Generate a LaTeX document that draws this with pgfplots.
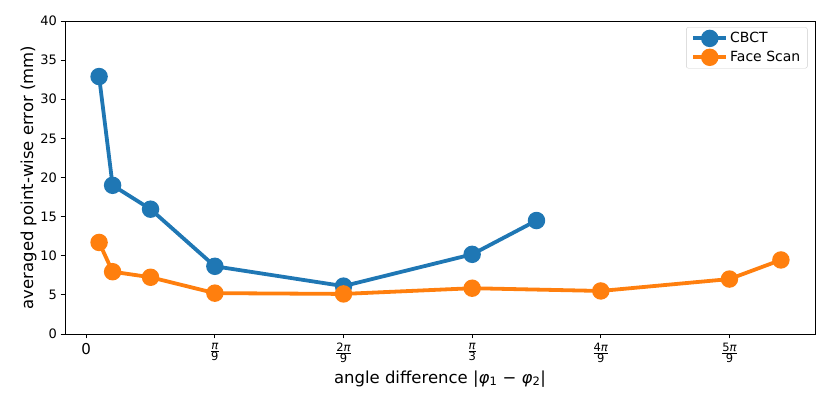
\documentclass[border=0pt]{standalone}
\usepackage{pgfplots}
\pgfplotsset{compat=1.18}
\usepackage{fontspec}
\setmainfont{DejaVu Sans}
\definecolor{tabblue}{HTML}{1F77B4}
\definecolor{taborange}{HTML}{FF7F0E}
\newcommand{\pf}[2]{$\frac{\mbox{\fontsize{11.5}{12}\selectfont #1\textit{π}}}{\mbox{\fontsize{11.5}{12}\selectfont #2}}$}
\begin{document}
\begin{tikzpicture}
\begin{axis}[
  scale only axis, width=750pt, height=313pt,
  xmin=-3.3, xmax=113.3, ymin=0, ymax=40,
  xtick={0,20,40,60,80,100},
  xticklabels={{\fontsize{15}{16}\selectfont 0},{\pf{}{9}},{\pf{2}{9}},{\pf{}{3}},{\pf{4}{9}},{\pf{5}{9}}},
  ytick={0,5,10,15,20,25,30,35,40},
  tick align=outside, tick pos=left,
  major tick length=4.5pt,
  tick style={black, line width=0.8pt},
  axis line style={line width=0.8pt},
  /pgf/number format/assume math mode=true,
  ticklabel style={font=\fontsize{13}{14}\selectfont},
  xticklabel style={yshift=-1pt},
  label style={font=\fontsize{16.5}{18}\selectfont},
  xlabel={angle difference |\textit{φ}\textsubscript{1} − \textit{φ}\textsubscript{2}|},
  ylabel={averaged point-wise error (mm)},
  xlabel style={yshift=-1pt},
  ylabel style={yshift=-3pt},
  legend style={at={(0.99,0.98)}, anchor=north east, draw=black!20, rounded corners=2pt,
    font=\fontsize{14}{16}\selectfont, row sep=3pt, inner xsep=5pt, inner ysep=3pt},
  legend cell align=left,
  legend image code/.code={\draw[mark repeat=2,mark phase=2] plot coordinates {(0cm,0cm)(0.58cm,0cm)(1.16cm,0cm)};},
]
\addplot[color=tabblue, line width=3.8pt, mark=*, mark size=6.8pt, mark options={solid, fill=tabblue, draw=none}]
  coordinates {(2,32.9) (4.1,19.0) (10,15.95) (20,8.65) (40,6.12) (60,10.18) (70,14.5)};
\addlegendentry{CBCT}
\addplot[color=taborange, line width=3.8pt, mark=*, mark size=6.8pt, mark options={solid, fill=taborange, draw=none}]
  coordinates {(2,11.7) (4.1,7.96) (10,7.25) (20,5.22) (40,5.12) (60,5.85) (80,5.5) (100,7.02) (108,9.46)};
\addlegendentry{Face Scan}
\end{axis}
\useasboundingbox (current axis.south west) ++(-65pt,-81pt) rectangle ([shift={(15pt,21pt)}]current axis.north east);
\end{tikzpicture}
\end{document}
